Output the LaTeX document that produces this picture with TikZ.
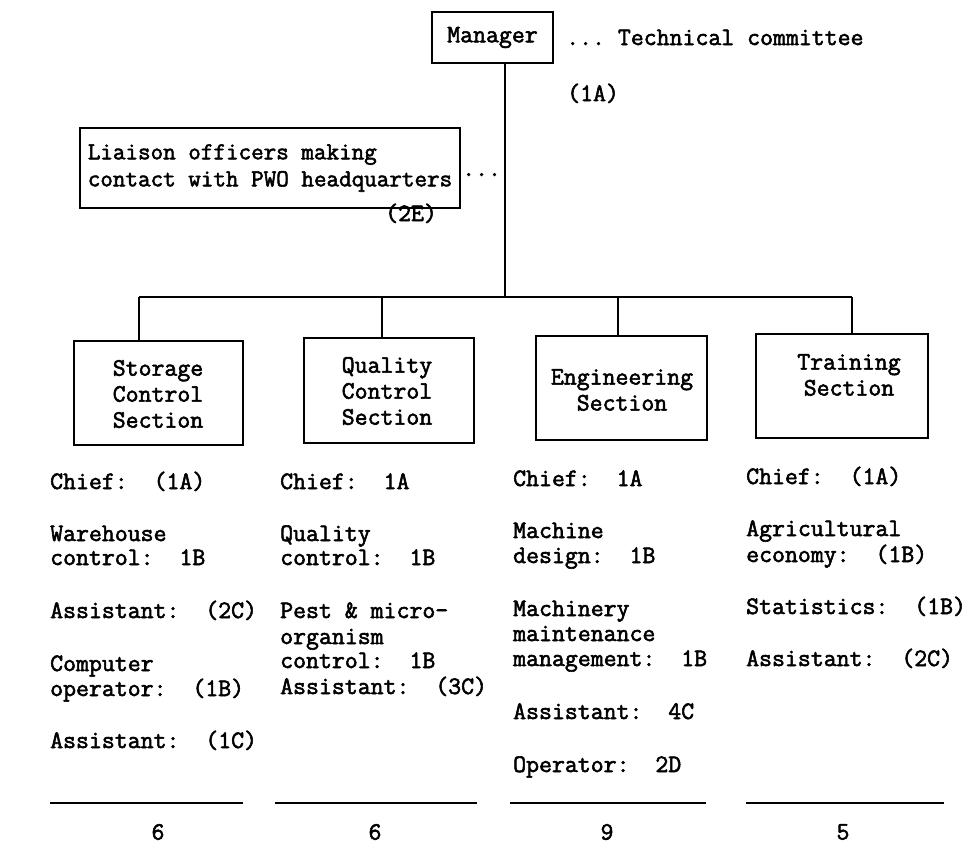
\documentclass[tikz,border=0pt]{standalone}
\usepackage{fontspec}
\newfontfamily\twfont{Latin Modern Mono}[AutoFakeBold=2.2]
\begin{document}
\begin{tikzpicture}[x=1pt,y=-1pt,
  every node/.style={font=\fontsize{25.1}{26}\selectfont\twfont\bfseries, inner sep=0pt, text=black},
  box/.style={draw, line width=1.8pt},
  conn/.style={line width=2.2pt},
  txt/.style={anchor=base west},
  rulebar/.style={line width=1.5pt}]
\useasboundingbox (0,0) rectangle (965,844);
\fill[white] (0,0) rectangle (965,844);
% top
\node[box, minimum width=121pt, minimum height=51pt] (manager) at (492.5,37.5) {Manager};
\node[txt] (tech) at (566,45) {...~Technical committee};
\node[txt] (mgrgrade) at (567,101) {(1A)};
% liaison
\node[box, minimum width=380pt, minimum height=80pt, align=left,
      font=\fontsize{24.4}{27}\selectfont\twfont\bfseries] (liaison) at (270,168)
  {Liaison officers making\\contact with PWO headquarters};
\node[txt] (ldots) at (462,176) {...};
\node[txt] (lgrade) at (385,221) {(2E)};
% trunk and bar
\coordinate (trunk) at (505,297);
\coordinate (d1) at (139,297);
\coordinate (d2) at (382,297);
\coordinate (d3) at (618,297);
\coordinate (d4) at (852,297);
% boxes
\node[box, minimum width=169pt, minimum height=104pt] (storage) at (158.5,393) {};
\node[box, minimum width=170pt, minimum height=105pt] (quality) at (389,390.5) {};
\node[box, minimum width=171pt, minimum height=104pt] (engineering) at (621.5,388) {};
\node[box, minimum width=172pt, minimum height=104pt] (training) at (842,386) {};
\node[align=center] (storagelbl) at (158,394) {Storage\\Control\\Section};
\node[align=center] (qualitylbl) at (387,391) {Quality\\Control\\Section};
\node[align=center] (engineeringlbl) at (622,390) {Engineering\\Section};
\node[align=center] (traininglbl) at (849,375) {Training\\Section};
% connectors
\draw[conn] (manager.south -| trunk) -- (trunk);
\draw[conn] (d1) -- (d4);
\draw[conn] (d1) -- (d1 |- storage.north);
\draw[conn] (d2) -- (d2 |- quality.north);
\draw[conn] (d3) -- (d3 |- engineering.north);
\draw[conn] (d4) -- (d4 |- training.north);
% column 1
\node[txt] (a1) at (50,489) {Chief:~~(1A)};
\node[txt] (a2) at (50,541) {Warehouse};
\node[txt] (a3) at (50,565) {control:~~1B};
\node[txt] (a4) at (50,618) {Assistant:~~(2C)};
\node[txt] (a5) at (50,671) {Computer};
\node[txt] (a6) at (50,696) {operator:~~(1B)};
\node[txt] (a7) at (50,748) {Assistant:~~(1C)};
% column 2
\node[txt] (b1) at (280,489) {Chief:~~1A};
\node[txt] (b2) at (280,541) {Quality};
\node[txt] (b3) at (280,565) {control:~~1B};
\node[txt] (b4) at (280,618) {Pest \& micro-};
\node[txt] (b5) at (280,644) {organism};
\node[txt] (b6) at (280,668) {control:~~1B};
\node[txt] (b7) at (280,694) {Assistant:~~(3C)};
% column 3
\node[txt] (c1) at (513,486) {Chief:~~1A};
\node[txt] (c2) at (513,538) {Machine};
\node[txt] (c3) at (513,563) {design:~~1B};
\node[txt] (c4) at (513,616) {Machinery};
\node[txt] (c5) at (513,641) {maintenance};
\node[txt] (c6) at (513,666) {management:~~1B};
\node[txt] (c7) at (513,719) {Assistant:~~4C};
\node[txt] (c8) at (513,772) {Operator:~~2D};
% column 4
\node[txt] (e1) at (746,484) {Chief:~~(1A)};
\node[txt] (e2) at (746,536) {Agricultural};
\node[txt] (e3) at (746,562) {economy:~~(1B)};
\node[txt] (e4) at (746,614) {Statistics:~~(1B)};
\node[txt] (e5) at (746,666) {Assistant:~~(2C)};
% totals
\coordinate (r1a) at (50,803);  \coordinate (r1b) at (243,803);
\coordinate (r2a) at (275,803); \coordinate (r2b) at (477,803);
\coordinate (r3a) at (510,803); \coordinate (r3b) at (706,803);
\coordinate (r4a) at (746,803); \coordinate (r4b) at (944,803);
\draw[rulebar] (r1a) -- (r1b);
\draw[rulebar] (r2a) -- (r2b);
\draw[rulebar] (r3a) -- (r3b);
\draw[rulebar] (r4a) -- (r4b);
\node (t1) at (158,832) {6};
\node (t2) at (375,832) {6};
\node (t3) at (607,832) {9};
\node (t4) at (843,832) {5};
\end{tikzpicture}
\end{document}
